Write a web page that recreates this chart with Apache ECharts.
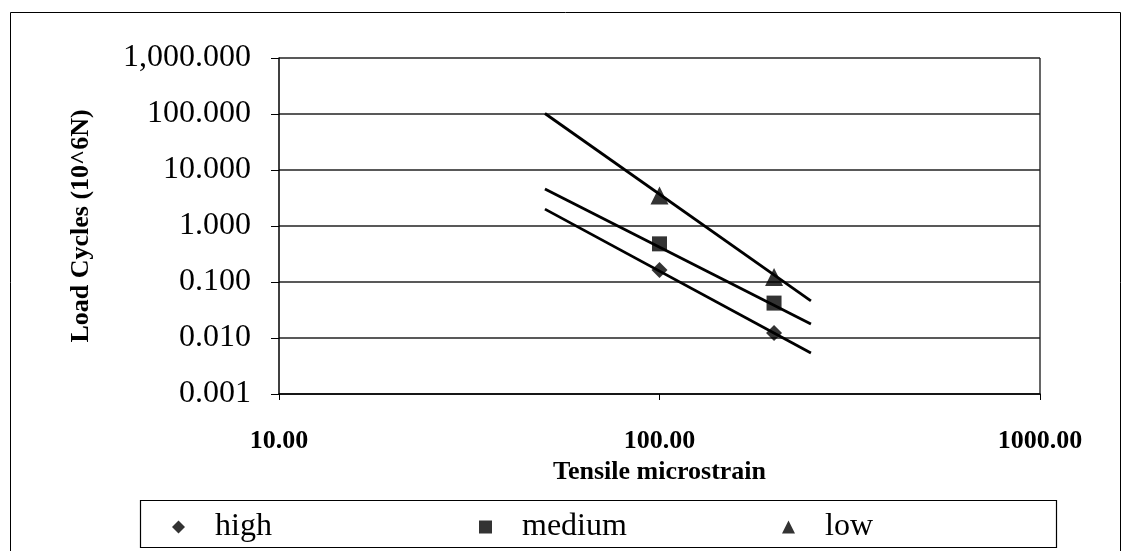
<!DOCTYPE html>
<html>
<head>
<meta charset="utf-8">
<script src="https://cdn.jsdelivr.net/npm/echarts@6/dist/echarts.min.js"></script>
<style>html,body{margin:0;padding:0;background:#fff}#c{width:1124px;height:551px}</style>
</head>
<body>
<div id="c"></div>
<script>
// Measured points (markers)
const strain = [100, 200];
const high = [0.164, 0.0123];
const medium = [0.48, 0.042];
const low = [3.5, 0.123];
// Power trendlines (endpoints)
const trendStrain = [50, 250];
const highTrend = [2.0, 0.0054];
const mediumTrend = [4.6, 0.0178];
const lowTrend = [102, 0.046];
// Tick labels
const yTickLabels = ['0.001', '0.010', '0.100', '1.000', '10.000', '100.000', '1,000.000'];
const xTickLabels = ['10.00', '100.00', '1000.00'];

const FONT = '"Liberation Serif", "Times New Roman", serif';
const pairs = (xs, ys) => xs.map((x, i) => [x, ys[i]]);

const chart = echarts.init(document.getElementById('c'), null, {renderer: 'canvas'});
const lineStyle = {color: '#000', width: 2.8};
const series = [
  {name: 'highTrend', type: 'line', data: pairs(trendStrain, highTrend), symbol: 'none', lineStyle, silent: true, z: 2},
  {name: 'mediumTrend', type: 'line', data: pairs(trendStrain, mediumTrend), symbol: 'none', lineStyle, silent: true, z: 2},
  {name: 'lowTrend', type: 'line', data: pairs(trendStrain, lowTrend), symbol: 'none', lineStyle, silent: true, z: 2},
  {name: 'high', type: 'scatter', data: pairs(strain, high), symbol: 'diamond', symbolSize: 16, itemStyle: {color: '#000'}, z: 3},
  {name: 'medium', type: 'scatter', data: pairs(strain, medium), symbol: 'rect', symbolSize: 15, itemStyle: {color: '#000'}, z: 3},
  {name: 'low', type: 'scatter', data: pairs(strain, low), symbol: 'triangle', symbolSize: 18, itemStyle: {color: '#000'}, z: 3}
];
const legendCommon = {
  top: 506, itemWidth: 13, itemHeight: 13, itemGap: 10,
  textStyle: {fontFamily: FONT, fontSize: 32, color: '#000', padding: [0, 0, 0, 25]},
  selectedMode: false
};
chart.setOption({
  animation: false,
  backgroundColor: '#fff',
  grid: {left: 279, right: 84, top: 58, bottom: 157, containLabel: false},
  xAxis: {
    type: 'log', logBase: 10, min: 10, max: 1000,
    name: 'Tensile microstrain', nameLocation: 'middle', nameGap: 61,
    nameTextStyle: {fontFamily: FONT, fontSize: 26, fontWeight: 'bold', color: '#000'},
    axisLine: {lineStyle: {color: '#000', width: 1.5}},
    axisTick: {show: true, length: 6, lineStyle: {color: '#000'}},
    minorTick: {show: false},
    splitLine: {show: false},
    axisLabel: {
      margin: 34, fontFamily: FONT, fontSize: 26, fontWeight: 'bold', color: '#000',
      formatter: v => xTickLabels[Math.round(Math.log10(v)) - 1]
    }
  },
  yAxis: {
    type: 'log', logBase: 10, min: 0.001, max: 1000,
    name: 'Load Cycles (10^6N)', nameLocation: 'middle', nameGap: 185, nameRotate: 90,
    nameTextStyle: {fontFamily: FONT, fontSize: 26, fontWeight: 'bold', color: '#000'},
    axisLine: {show: true, lineStyle: {color: '#000', width: 1.5}},
    axisTick: {show: true, length: 8, lineStyle: {color: '#000'}},
    splitLine: {show: true, lineStyle: {color: '#222', width: 1.5}},
    axisLabel: {
      margin: 28, fontFamily: FONT, fontSize: 32, color: '#000',
      formatter: v => yTickLabels[Math.round(Math.log10(v)) + 3]
    }
  },
  legend: [
    Object.assign({left: 167, data: [{name: 'high', icon: 'diamond'}]}, legendCommon),
    Object.assign({left: 474, data: [{name: 'medium', icon: 'rect'}]}, legendCommon),
    Object.assign({left: 777, data: [{name: 'low', icon: 'triangle'}]}, legendCommon)
  ],
  graphic: [
    {type: 'rect', shape: {x: 10.5, y: 12.5, width: 1110, height: 560}, style: {fill: 'none', stroke: '#000', lineWidth: 1}, silent: true},
    {type: 'rect', shape: {x: 140.5, y: 500.5, width: 916, height: 47}, style: {fill: 'none', stroke: '#000', lineWidth: 1.2}, silent: true},
    {type: 'line', shape: {x1: 1040, y1: 58, x2: 1040, y2: 394}, style: {stroke: '#000', lineWidth: 1.2}, silent: true}
  ],
  series
});
</script>
</body>
</html>
